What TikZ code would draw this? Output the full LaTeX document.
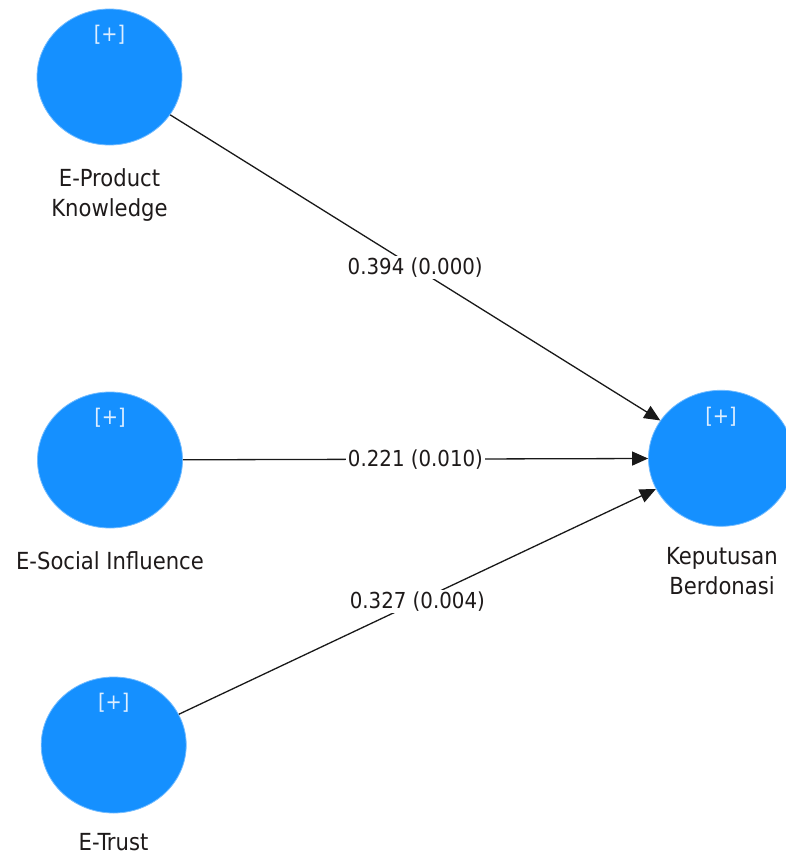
\documentclass[tikz,border=0pt]{standalone}
\usepackage{fontspec}
\setmainfont{DejaVu Sans Condensed}
\usetikzlibrary{shapes.geometric,arrows.meta}
\definecolor{lvblue}{HTML}{1590FF}
\definecolor{plusc}{HTML}{DDEEFF}
\definecolor{txt}{HTML}{1E1A1A}
\tikzset{
  lv/.style={ellipse, fill=lvblue, draw=lvblue!60!white, line width=0.8pt, minimum width=145pt, minimum height=136pt, inner sep=0pt},
  plus/.style={text=plusc, font=\fontsize{21.5}{21.5}\selectfont},
  lbl/.style={text=txt, font=\fontsize{23.5}{30}\selectfont, align=center},
  path/.style={draw=black!90, line width=1.3pt, -{Triangle[length=16pt,width=14pt]}},
  coef/.style={fill=white, text=txt, font=\fontsize{22}{22}\selectfont, inner sep=2pt, midway}
}
\begin{document}
\begin{tikzpicture}[x=1pt,y=-1pt]
\useasboundingbox (0,0) rectangle (785,856);
\node[lv] (epk) at (109.5,77) {};
\node[lv] (esi) at (110,460) {};
\node[lv] (et) at (113.7,745) {};
\node[lv] (kb) at (721,458.3) {};
\node[plus] (p1) at (109.5,35) {[+]};
\node[plus] (p2) at (110,418) {[+]};
\node[plus] (p3) at (113.7,703) {[+]};
\node[plus] (p4) at (721,416.5) {[+]};
\node[lbl] (l1) at (109.5,195) {E-Product\\Knowledge};
\node[lbl] (l2) at (110,561) {E-Social Influence};
\node[lbl] (l3) at (113.5,842) {E-Trust};
\node[lbl] (l4) at (722,571.5) {Keputusan\\Berdonasi};
\draw[path] (epk) -- (kb) node[coef] (c1) {0.394 (0.000)};
\draw[path] (esi) -- (kb) node[coef] (c2) {0.221 (0.010)};
\draw[path] (et) -- (kb) node[coef] (c3) {0.327 (0.004)};
\end{tikzpicture}
\end{document}
